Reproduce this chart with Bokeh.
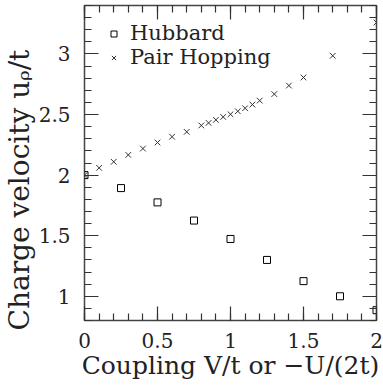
import numpy as np
from bokeh.plotting import figure
from bokeh.models import (LinearAxis, FixedTicker, Range1d, Legend, LegendItem,
                          CustomLabelingPolicy, Title)
from bokeh.embed import file_html
from bokeh.resources import INLINE

# ---- data ----
hub_x = [0.0, 0.25, 0.5, 0.75, 1.0, 1.25, 1.5, 1.75, 2.0]
hub_y = [2.0, 1.893, 1.775, 1.625, 1.473, 1.30, 1.125, 1.0, 0.885]

ph_x = [0.0, 0.1, 0.2, 0.3, 0.4, 0.5, 0.6, 0.7, 0.8, 0.85, 0.9, 0.95, 1.0,
        1.05, 1.1, 1.15, 1.2, 1.3, 1.4, 1.5, 1.7, 2.0]
ph_y = [2.0, 2.06, 2.11, 2.167, 2.219, 2.269, 2.317, 2.357, 2.41, 2.431, 2.456,
        2.48, 2.502, 2.527, 2.552, 2.582, 2.615, 2.669, 2.739, 2.806, 2.985, 3.26]

x_tick_values = [0, 0.5, 1, 1.5, 2]
x_tick_labels = ["0", "0.5", "1", "1.5", "2"]
y_tick_values = [1, 1.5, 2, 2.5, 3]
y_tick_labels = ["1", "1.5", "2", "2.5", "3"]

FONT = "DejaVu Serif"

p = figure(output_backend="svg", toolbar_location=None,
           frame_width=292, frame_height=315,
           x_range=Range1d(0, 2), y_range=Range1d(0.8, 3.4),
           min_border_left=83, min_border_right=8, min_border_top=5,
           min_border_bottom=0, x_axis_location=None, y_axis_location=None)
p.background_fill_color = "white"
p.border_fill_color = "white"
p.outline_line_color = "#444444"
p.outline_line_width = 1.5
p.xgrid.grid_line_color = None
p.ygrid.grid_line_color = None

x_minor = [round(v, 2) for v in np.arange(0, 2.01, 0.1)]
y_minor = [round(v, 2) for v in np.arange(0.8, 3.41, 0.1)]
xt = FixedTicker(ticks=x_tick_values, minor_ticks=x_minor)
yt = FixedTicker(ticks=y_tick_values, minor_ticks=y_minor)


def style(ax, labels):
    ax.major_tick_in = 14
    ax.major_tick_out = 0
    ax.minor_tick_in = 7
    ax.minor_tick_out = 0
    ax.major_tick_line_color = "#333333"
    ax.minor_tick_line_color = "#333333"
    ax.major_tick_line_width = 1.2
    ax.minor_tick_line_width = 1.2
    ax.axis_line_color = None
    if labels:
        ax.major_label_text_font = FONT
        ax.major_label_text_font_size = "20px"
        ax.major_label_text_color = "#222222"
        ax.axis_label_text_font = FONT
        ax.axis_label_text_font_size = "25px"
        ax.axis_label_text_font_style = "normal"
        ax.axis_label_text_color = "#222222"
    else:
        ax.major_label_text_font_size = "0px"
        ax.major_label_policy = CustomLabelingPolicy(code="if (false) { yield 0 }")
        ax.major_label_standoff = 0
        ax.axis_label = None


xb = LinearAxis(ticker=xt, axis_label="Coupling V/t or \u2212U/(2t)",
                major_label_overrides=dict(zip(x_tick_values, x_tick_labels)))
style(xb, True)
xb.major_label_standoff = 12
xb.axis_label_standoff = 0
p.add_layout(xb, "below")

yl = LinearAxis(ticker=yt,
                major_label_overrides=dict(zip(y_tick_values, y_tick_labels)))
style(yl, True)
yl.axis_label = None
yl.major_label_standoff = 14
p.add_layout(yl, "left")

ytitle = Title(text="Charge velocity u\u1d68/t", align="left", offset=-10,
               text_font=FONT, text_font_size="28px", text_font_style="normal",
               text_color="#222222", standoff=0)
p.add_layout(ytitle, "left")

xa = LinearAxis(ticker=xt)
style(xa, False)
p.add_layout(xa, "above")
yr = LinearAxis(ticker=yt)
style(yr, False)
p.add_layout(yr, "right")

r1 = p.scatter(hub_x, hub_y, marker="square", size=7, fill_color=None,
               line_color="black", line_width=1)
r2 = p.scatter(ph_x, ph_y, marker="x", size=8, line_color="#333333",
               line_width=1)

legend = Legend(items=[LegendItem(label="Hubbard", renderers=[r1]),
                       LegendItem(label="Pair Hopping", renderers=[r2])],
                location=(22, 251), padding=0, margin=0, spacing=0,
                glyph_width=15, glyph_height=15, label_standoff=9,
                label_text_font=FONT, label_text_font_size="21px",
                label_text_line_height=1.0, label_text_color="#222222",
                label_height=22, background_fill_alpha=0,
                border_line_color=None)
p.add_layout(legend)

open("out.html", "w").write(file_html(p, INLINE))
